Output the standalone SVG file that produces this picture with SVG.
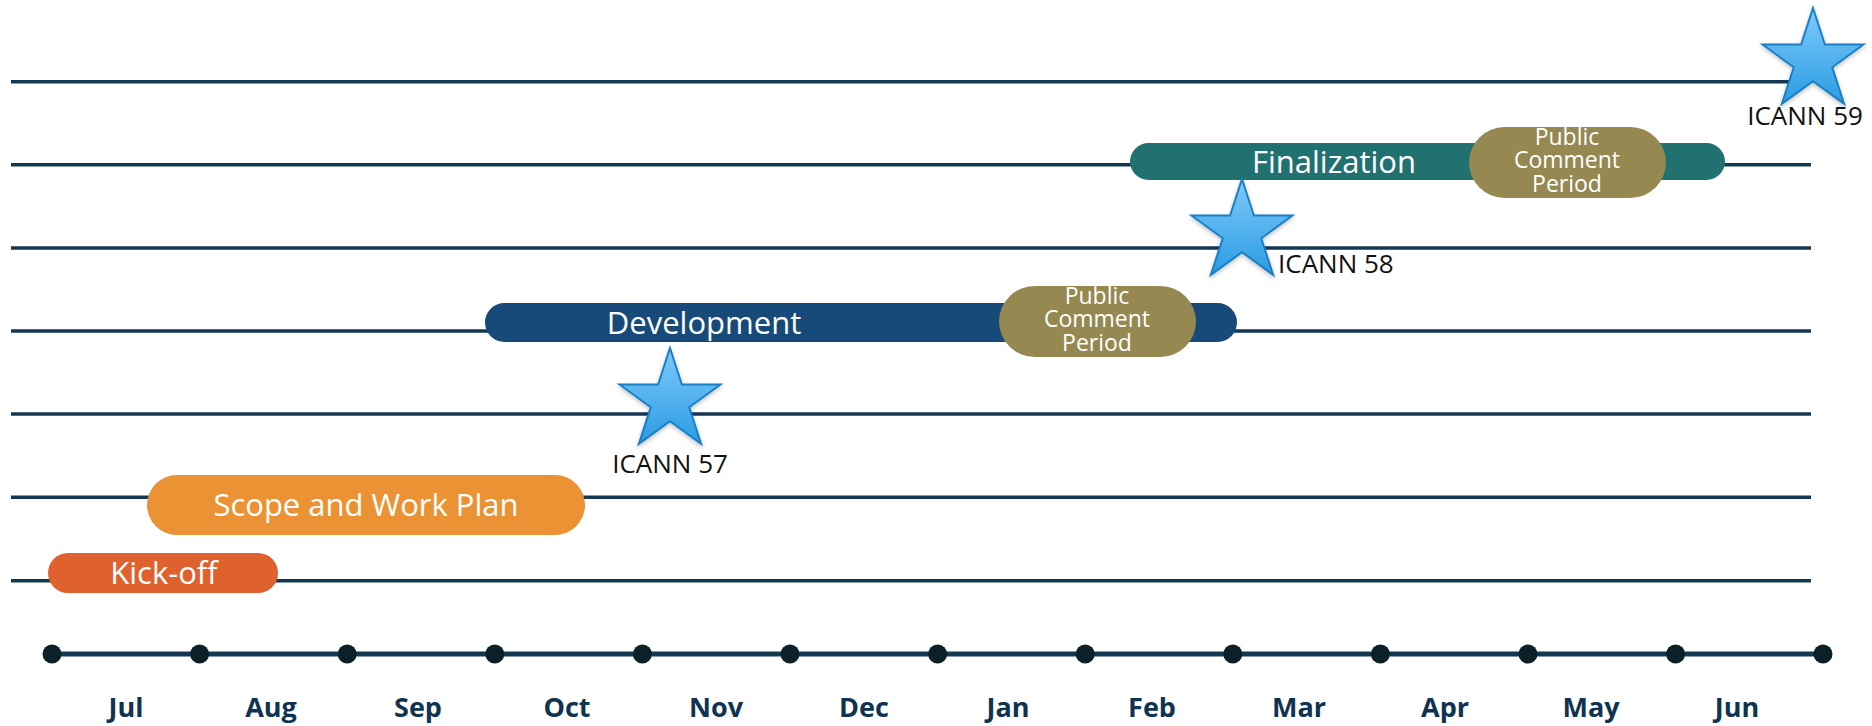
<svg xmlns="http://www.w3.org/2000/svg" xmlns:xlink="http://www.w3.org/1999/xlink" width="1872" height="726" viewBox="0 0 1872 726">
  <style>
    .grid { stroke: #143753; stroke-width: 3.5; }
    .axis { stroke: #143753; stroke-width: 5; }
    .dot { fill: #0b2027; }
    .month { font-family: "Open Sans", "Liberation Sans", sans-serif; font-weight: bold; font-size: 27px; fill: #0f3350; text-anchor: middle; }
    .bartext { font-family: "Open Sans", "Liberation Sans", sans-serif; font-size: 31px; fill: #ffffff; text-anchor: middle; }
    .pcp { font-family: "Open Sans", "Liberation Sans", sans-serif; font-size: 23px; fill: #ffffff; text-anchor: middle; }
    .icann { font-family: "Open Sans", "Liberation Sans", sans-serif; font-size: 26px; fill: #111111; }
    .star { fill: url(#starGrad); stroke: #1b7fc6; stroke-width: 2; stroke-linejoin: miter; filter: url(#shadow); }
  </style>
  <defs>
    <linearGradient id="starGrad" x1="0" y1="0" x2="0" y2="1">
      <stop offset="0" stop-color="#7fcbfb"/>
      <stop offset="1" stop-color="#2a9ce3"/>
    </linearGradient>
    <filter id="shadow" x="-30%" y="-30%" width="160%" height="160%">
      <feDropShadow dx="0" dy="2" stdDeviation="2" flood-color="#000000" flood-opacity="0.25"/>
    </filter>
    <path id="starShape" d="M0,-53 L11.9,-16.38 L50.41,-16.38 L19.26,6.26 L31.15,42.88 L0,20.25 L-31.15,42.88 L-19.26,6.26 L-50.41,-16.38 L-11.9,-16.38 Z"/>
  </defs>

  <rect x="0" y="0" width="1872" height="726" fill="#ffffff"/>

  <g id="connectors">
    <line class="grid" x1="11" y1="81.7" x2="1811" y2="81.7"/>
    <line class="grid" x1="11" y1="164.8" x2="1811" y2="164.8"/>
    <line class="grid" x1="11" y1="248" x2="1811" y2="248"/>
    <line class="grid" x1="11" y1="331" x2="1811" y2="331"/>
    <line class="grid" x1="11" y1="414" x2="1811" y2="414"/>
    <line class="grid" x1="11" y1="497.3" x2="1811" y2="497.3"/>
    <line class="grid" x1="11" y1="580.7" x2="1811" y2="580.7"/>
    <line class="axis" x1="52" y1="654" x2="1823" y2="654"/>
  </g>

  <g id="axis-dots">
    <circle class="dot" cx="52" cy="654" r="9.5"/>
    <circle class="dot" cx="199.6" cy="654" r="9.5"/>
    <circle class="dot" cx="347.2" cy="654" r="9.5"/>
    <circle class="dot" cx="494.8" cy="654" r="9.5"/>
    <circle class="dot" cx="642.4" cy="654" r="9.5"/>
    <circle class="dot" cx="790" cy="654" r="9.5"/>
    <circle class="dot" cx="937.6" cy="654" r="9.5"/>
    <circle class="dot" cx="1085.2" cy="654" r="9.5"/>
    <circle class="dot" cx="1232.8" cy="654" r="9.5"/>
    <circle class="dot" cx="1380.4" cy="654" r="9.5"/>
    <circle class="dot" cx="1528" cy="654" r="9.5"/>
    <circle class="dot" cx="1675.6" cy="654" r="9.5"/>
    <circle class="dot" cx="1823" cy="654" r="9.5"/>
  </g>

  <g id="month-labels">
    <text class="month" x="126" y="717">Jul</text>
    <text class="month" x="271" y="717">Aug</text>
    <text class="month" x="418" y="717">Sep</text>
    <text class="month" x="567" y="717">Oct</text>
    <text class="month" x="716" y="717">Nov</text>
    <text class="month" x="864" y="717">Dec</text>
    <text class="month" x="1008" y="717">Jan</text>
    <text class="month" x="1152" y="717">Feb</text>
    <text class="month" x="1299" y="717">Mar</text>
    <text class="month" x="1445" y="717">Apr</text>
    <text class="month" x="1591" y="717">May</text>
    <text class="month" x="1737" y="717">Jun</text>
  </g>

  <g id="kickoff">
    <rect x="48" y="553" width="230" height="40" rx="20" fill="#df612e"/>
    <text class="bartext" x="164" y="584">Kick-off</text>
  </g>

  <g id="scope">
    <rect x="147" y="475" width="438" height="60" rx="30" fill="#eb9234"/>
    <text class="bartext" x="366" y="516" font-size="30">Scope and Work Plan</text>
  </g>

  <g id="development">
    <rect x="485" y="303" width="752" height="39" rx="19.5" fill="#174a78"/>
    <text class="bartext" x="704" y="334">Development</text>
  </g>

  <g id="public-comment-1">
    <rect x="999" y="286" width="197" height="71" rx="35.5" fill="#958951"/>
    <text class="pcp" x="1097" y="304">Public</text>
    <text class="pcp" x="1097" y="327">Comment</text>
    <text class="pcp" x="1097" y="351">Period</text>
  </g>

  <g id="finalization">
    <rect x="1130" y="143" width="595" height="37" rx="18.5" fill="#217170"/>
    <text class="bartext" x="1334" y="173">Finalization</text>
  </g>

  <g id="public-comment-2">
    <rect x="1469" y="127" width="197" height="71" rx="35.5" fill="#958951"/>
    <text class="pcp" x="1567" y="145">Public</text>
    <text class="pcp" x="1567" y="168">Comment</text>
    <text class="pcp" x="1567" y="192">Period</text>
  </g>

  <g id="icann57">
    <use xlink:href="#starShape" href="#starShape" class="star" transform="translate(670,401)"/>
    <text class="icann" x="670" y="473" text-anchor="middle">ICANN 57</text>
  </g>

  <g id="icann58">
    <use xlink:href="#starShape" href="#starShape" class="star" transform="translate(1242,232)"/>
    <text class="icann" x="1278" y="273">ICANN 58</text>
  </g>

  <g id="icann59">
    <use xlink:href="#starShape" href="#starShape" class="star" transform="translate(1813,61)"/>
    <text class="icann" x="1805" y="125" text-anchor="middle">ICANN 59</text>
  </g>
</svg>
